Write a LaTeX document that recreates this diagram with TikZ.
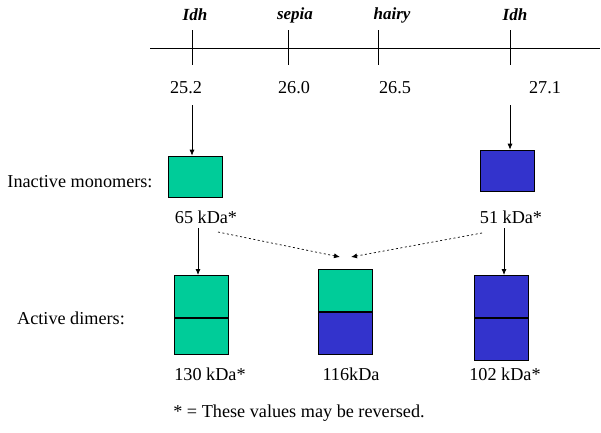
\documentclass[tikz,border=0pt]{standalone}
\usepackage{fontspec}
\setmainfont{Liberation Serif}
\usetikzlibrary{arrows.meta}
\definecolor{mgreen}{HTML}{00CC99}
\definecolor{mblue}{HTML}{3333CC}
\begin{document}
\begin{tikzpicture}[x=1pt,y=-1pt,
  lbl/.style={inner sep=0pt,font=\fontsize{18.2}{21}\selectfont},
  ilbl/.style={inner sep=0pt,font=\fontsize{17}{20}\selectfont\bfseries\itshape},
  box/.style={draw=black,line width=0.6pt,inner sep=0pt,minimum width=54pt},
  arr/.style={-{Latex[length=6pt,width=5pt]},line width=0.8pt},
  darr/.style={-{Latex[length=6pt,width=5pt]},line width=0.7pt,dash pattern=on 2pt off 2.5pt}]
\useasboundingbox (0,0) rectangle (601,432);
% map axis
\coordinate (axL) at (150,48);
\coordinate (axR) at (600,48);
\draw[line width=0.8pt] (axL) -- (axR);
\foreach \n/\x in {t1/192,t2/288,t3/378,t4/510}{
  \coordinate (\n a) at (\x,30);
  \coordinate (\n b) at (\x,65);
  \draw[line width=0.8pt] (\n a) -- (\n b);
}
\node[ilbl] (g1) at (195,15) {Idh};
\node[ilbl] (g2) at (295,15) {sepia};
\node[ilbl] (g3) at (392,15) {hairy};
\node[ilbl] (g4) at (515,15) {Idh};
\node[lbl] (p1) at (186,88) {25.2};
\node[lbl] (p2) at (294,88) {26.0};
\node[lbl] (p3) at (395,88) {26.5};
\node[lbl] (p4) at (545,88) {27.1};
% monomers
\node[box,fill=mgreen,minimum height=41pt] (mg) at (195,176.5) {};
\node[box,fill=mblue,minimum height=41pt] (mb) at (507,170.5) {};
\coordinate (s1) at (192,105);
\coordinate (s2) at (510,105);
\draw[arr] (s1) -- (s1 |- mg.north);
\draw[arr] (s2) -- (s2 |- mb.north);
\node[lbl] (left1) at (80,182) {Inactive monomers:};
\node[lbl] (left2) at (71,318) {Active dimers:};
\node[lbl] (kg) at (206,217) {65 kDa*};
\node[lbl] (kb) at (511,217) {51 kDa*};
% dimers
\node[box,fill=mgreen,minimum height=42pt,anchor=north] (dg1) at (201,275) {};
\node[box,fill=mgreen,minimum height=36pt,anchor=north] (dg2) at (dg1.south) {};
\node[box,fill=mgreen,minimum height=42pt,anchor=north] (dm1) at (345,269) {};
\node[box,fill=mblue,minimum height=42pt,anchor=north] (dm2) at (dm1.south) {};
\node[box,fill=mblue,minimum height=42pt,anchor=north] (db1) at (501,275) {};
\node[box,fill=mblue,minimum height=42pt,anchor=north] (db2) at (db1.south) {};
\coordinate (s3) at (198,228);
\coordinate (s4) at (504,228);
\draw[arr] (s3) -- (s3 |- dg1.north);
\draw[arr] (s4) -- (s4 |- db1.north);
\coordinate (d1s) at (218,232);
\coordinate (d1e) at (340,257);
\coordinate (d2s) at (482,233);
\coordinate (d2e) at (351,257);
\draw[darr] (d1s) -- (d1e);
\draw[darr] (d2s) -- (d2e);
\node[lbl] (kdg) at (210,374) {130 kDa*};
\node[lbl] (kdm) at (351,374) {116kDa};
\node[lbl] (kdb) at (505,374) {102 kDa*};
\node[lbl] (note) at (299,413) {* = These values may be reversed.};
\end{tikzpicture}
\end{document}
